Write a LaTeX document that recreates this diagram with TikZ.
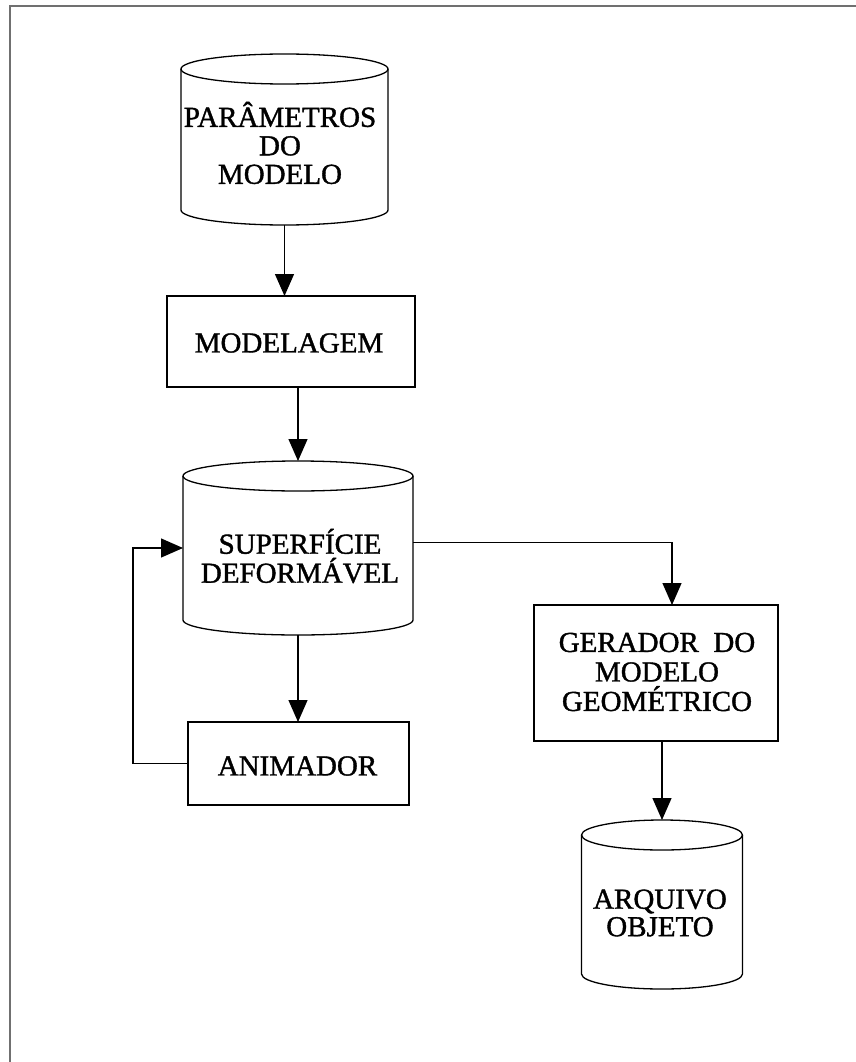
\documentclass[tikz,border=0pt]{standalone}
\usepackage{fontspec}
\setmainfont{Liberation Serif}
\newfontfamily\heavyserif{Liberation Serif}[FakeBold=1.3]
\usetikzlibrary{arrows.meta,calc}

% drum: #1 name, #2 centre x, #3 top y, #4 bottom y, #5 half width (end caps 15pt high)
\newcommand\drum[5]{%
  \draw[shapeline] ({#2-#5},{#3+15}) -- ({#2-#5},{#4-15})
     arc[start angle=180,end angle=360,x radius=#5pt,y radius=15pt]
     -- ({#2+#5},{#3+15});
  \draw[shapeline] (#2,{#3+15}) ellipse[x radius=#5pt,y radius=15pt];
  \node[inner sep=0pt,outer sep=0pt,minimum width={2*#5pt},minimum height={(#4-#3)*1pt}]
     (#1) at (#2,{(#3+#4)/2}) {};%
}

\tikzset{
  shapeline/.style={line width=1.3pt,black},
  procbox/.style={draw,line width=1.3pt,inner sep=0pt,outer sep=0pt},
  lbl/.style={align=center,inner sep=0pt,font=\heavyserif\fontsize{29}{28.5}\selectfont},
  flow/.style={line width=1.3pt,-{Triangle[length=22pt,width=19pt]}},
  frame/.style={line width=2pt,black!56},
}

\begin{document}
\begin{tikzpicture}[x=1pt,y=-1pt]
  \useasboundingbox (0,0) rectangle (856,1062);
  \fill[white] (0,0) rectangle (856,1062);

  % page frame (top and left edges)
  \draw[frame] (10,1062) -- (10,6) -- (856,6);

  % data stores
  \drum{par}{284.5}{54}{225}{103.5}
  \drum{sup}{298}{461}{635}{115}
  \drum{arq}{662}{820}{989}{80.5}

  \node[lbl] (partxt) at (280,143) {PARÂMETROS\\DO\\MODELO};
  \node[lbl,font=\heavyserif\fontsize{29}{29}\selectfont] (suptxt) at (300,556) {SUPERFÍCIE\\DEFORMÁVEL};
  \node[lbl,font=\heavyserif\fontsize{29}{27.5}\selectfont] (arqtxt) at (660,913) {ARQUIVO\\OBJETO};

  % processes
  \node[procbox,minimum width=248pt,minimum height=91pt] (mod) at (291,341.5) {};
  \node[lbl] (modtxt) at (289,343) {MODELAGEM};
  \node[procbox,minimum width=221pt,minimum height=83pt] (anim) at (298.5,763.5) {};
  \node[lbl] (animtxt) at (297.5,766) {ANIMADOR};
  \node[procbox,minimum width=244pt,minimum height=136pt] (ger) at (656,673) {};
  \node[lbl,font=\heavyserif\fontsize{29}{29.5}\selectfont] (gertxt) at (657,672) {GERADOR\ \ DO\\MODELO\\GEOMÉTRICO};

  % connectors
  \coordinate (loopx) at (133,0);
  \draw[flow] (par.south) -- (par.south |- mod.north);
  \draw[flow] (sup.north |- mod.south) -- (sup.north);
  \draw[flow] (sup.south) -- (sup.south |- anim.north);
  \draw[flow] (anim.west) -- (anim.west -| loopx) |- (sup.west);
  \draw[flow] ($(sup.east)+(0,-5.5)$) -| ($(ger.north)+(16,0)$);
  \draw[flow] (ger.south -| arq.north) -- (arq.north);
\end{tikzpicture}
\end{document}
